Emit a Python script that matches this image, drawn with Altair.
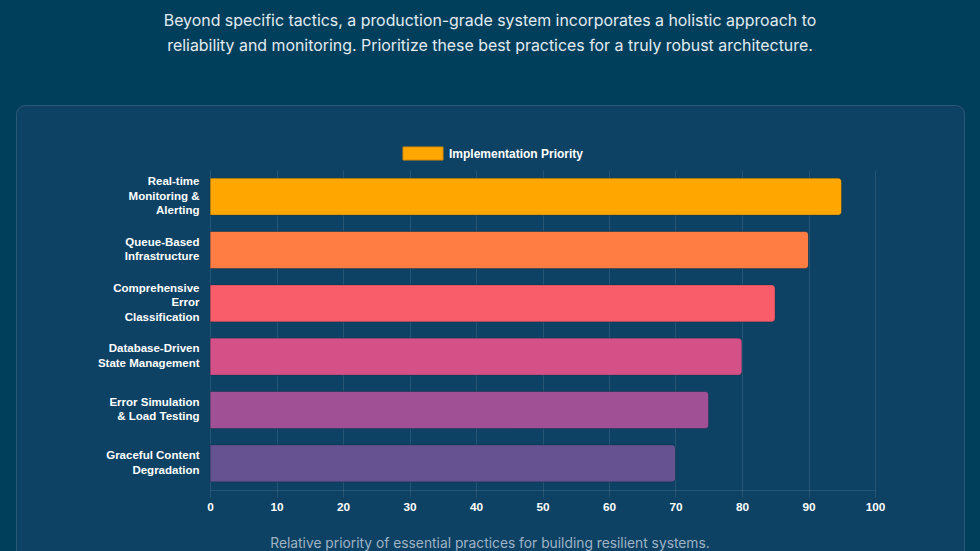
import altair as alt
import pandas as pd

categories = [
    "Real-time|Monitoring &|Alerting",
    "Queue-Based|Infrastructure",
    "Comprehensive|Error|Classification",
    "Database-Driven|State Management",
    "Error Simulation|& Load Testing",
    "Graceful Content|Degradation",
]
priority = [95, 90, 85, 80, 75, 70]
bar_colors = ["#ffa600", "#ff7c43", "#f95d6a", "#d45087", "#a05195", "#665191"]
x_ticks = [0, 10, 20, 30, 40, 50, 60, 70, 80, 90, 100]
series_name = "Implementation Priority"
intro_lines = [
    "Beyond specific tactics, a production-grade system incorporates a holistic approach to",
    "reliability and monitoring. Prioritize these best practices for a truly robust architecture.",
]
caption = "Relative priority of essential practices for building resilient systems."

PAGE_BG = "#003f5c"
CARD_BG = "#0e4264"

df = pd.DataFrame({"practice": categories, "priority": priority})
one = pd.DataFrame({"k": [0]})

W, H = 665, 320
LEFT, TOP = 210, 170
S = 200  # frame stroke width
LH = 14.5  # label line height

# page-coloured frame around the card (card colour is the chart background)
frame = alt.Chart(one).mark_rect(
    fill=None, filled=False, stroke=PAGE_BG, strokeWidth=S, cornerRadius=9 + S / 2
).encode(
    x=alt.value(16 - S / 2 - LEFT), x2=alt.value(965 + S / 2 - LEFT),
    y=alt.value(105 - S / 2 - TOP), y2=alt.value(720 + S / 2 - TOP),
)
card_border = alt.Chart(one).mark_rect(
    fill=None, filled=False, stroke="#2c5878", strokeWidth=1, cornerRadius=9
).encode(
    x=alt.value(16.5 - LEFT), x2=alt.value(964.5 - LEFT),
    y=alt.value(105.5 - TOP), y2=alt.value(720 - TOP),
)

bars = alt.Chart(df).mark_bar(
    cornerRadiusEnd=4, stroke="#0b2f48", strokeWidth=0.6, strokeOpacity=0.6
).encode(
    x=alt.X(
        "priority:Q",
        scale=alt.Scale(domain=[0, 100], nice=False),
        axis=alt.Axis(
            values=x_ticks, title=None, grid=True,
            gridColor="#ffffff", gridOpacity=0.1,
            tickColor="#ffffff", tickOpacity=0.1, tickSize=7,
            domainColor="#ffffff", domainOpacity=0.1,
            labelColor="#ffffff", labelFont="Liberation Sans",
            labelFontSize=11.8, labelFontWeight="bold", labelPadding=4,
            labelFlush=False,
        ),
    ),
    y=alt.Y(
        "practice:N",
        sort=categories,
        scale=alt.Scale(paddingInner=0.3, paddingOuter=0.15),
        axis=alt.Axis(
            title=None, ticks=False, domain=False, grid=False,
            labelExpr="split(datum.value, '|')",
            labelColor="#ffffff", labelFont="Liberation Sans",
            labelFontSize=11.5, labelFontWeight="bold", labelPadding=11,
            labelLineHeight=LH, labelLimit=200,
            labelOffset={
                "condition": {
                    "test": "length(split(datum.value, '|')) == 3",
                    "value": -LH,
                },
                "value": -LH / 2,
            },
        ),
    ),
    color=alt.Color(
        "practice:N",
        scale=alt.Scale(domain=categories, range=bar_colors),
        legend=None,
    ),
)

intro = alt.Chart(pd.DataFrame({"t": [intro_lines]})).mark_text(
    font="Inter", fontSize=15.9, color="#e2ebf2", align="center",
    baseline="top", lineHeight=25,
).encode(text="t:N", x=alt.value(490 - LEFT), y=alt.value(13 - TOP))

legend_swatch = alt.Chart(one).mark_rect(
    fill=bar_colors[0], stroke="#d98c00", strokeWidth=1
).encode(
    x=alt.value(403 - LEFT), x2=alt.value(443 - LEFT),
    y=alt.value(147 - TOP), y2=alt.value(160 - TOP),
)
legend_text = alt.Chart(pd.DataFrame({"t": [series_name]})).mark_text(
    font="Liberation Sans", fontSize=12, fontWeight="bold", color="#ffffff",
    align="left", baseline="middle",
).encode(text="t:N", x=alt.value(449 - LEFT), y=alt.value(153.5 - TOP))

cap = alt.Chart(pd.DataFrame({"t": [caption]})).mark_text(
    font="Inter", fontSize=13.8, color="#9fb3c4", align="center",
    baseline="middle",
).encode(text="t:N", x=alt.value(490 - LEFT), y=alt.value(544 - TOP))

chart = alt.layer(
    bars, frame, card_border, intro, legend_swatch, legend_text, cap
).properties(
    width=W, height=H,
    background=CARD_BG,
    padding={"left": LEFT, "top": TOP, "right": 980 - LEFT - W, "bottom": 551 - TOP - H},
    autosize=alt.AutoSizeParams(type="none"),
).configure_view(stroke=None)

chart.save("out.html", embed_options={"renderer": "svg", "actions": False})
